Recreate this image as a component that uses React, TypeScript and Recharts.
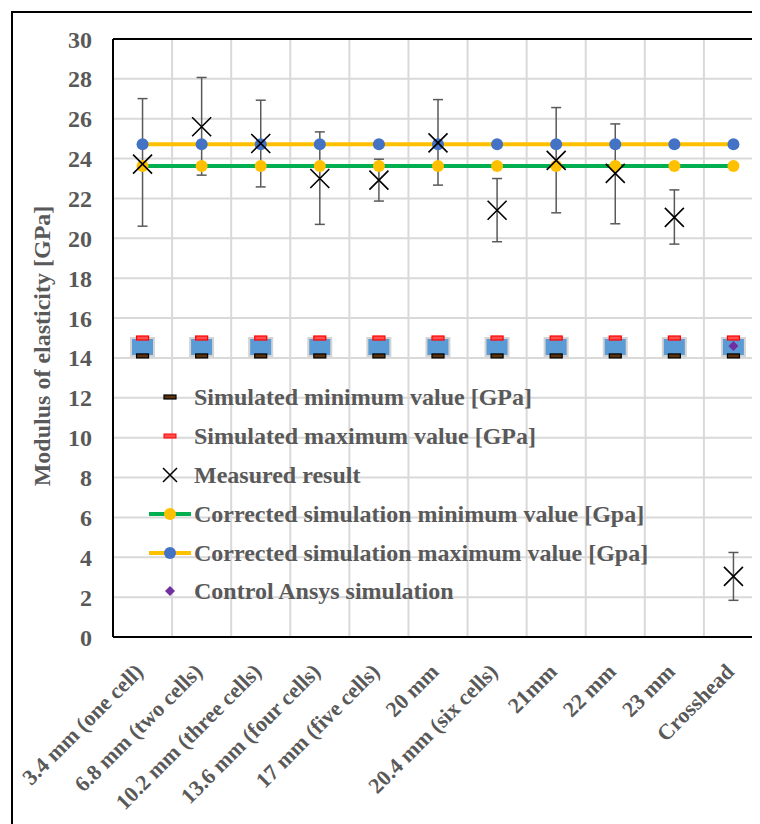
import React from 'react'
import {
  ComposedChart,
  Bar,
  Line,
  XAxis,
  YAxis,
  CartesianGrid,
  ErrorBar,
  ReferenceLine,
  Legend,
  Label,
} from 'recharts'

const categories = [
  '3.4 mm (one cell)',
  '6.8 mm (two cells)',
  '10.2 mm (three cells)',
  '13.6 mm (four cells)',
  '17 mm (five cells)',
  '20 mm',
  '20.4 mm (six cells)',
  '21mm',
  '22 mm',
  '23 mm',
  'Crosshead',
]

const simMin = [14.1, 14.1, 14.1, 14.1, 14.1, 14.1, 14.1, 14.1, 14.1, 14.1, 14.1]
const simMax = [15.0, 15.0, 15.0, 15.0, 15.0, 15.0, 15.0, 15.0, 15.0, 15.0, 15.0]
const measured = [23.72, 25.6, 24.76, 23.0, 22.92, 24.79, 21.41, 23.91, 23.26, 21.05, 3.04]
const measuredLow = [20.61, 23.17, 22.58, 20.7, 21.87, 22.67, 19.83, 21.28, 20.73, 19.71, 1.84]
const measuredHigh = [27.01, 28.07, 26.93, 25.34, 23.97, 26.96, 23.0, 26.56, 25.74, 22.43, 4.24]
const corrMin = [23.63, 23.63, 23.63, 23.63, 23.63, 23.63, 23.63, 23.63, 23.63, 23.63, 23.63]
const corrMax = [24.72, 24.72, 24.72, 24.72, 24.72, 24.72, 24.72, 24.72, 24.72, 24.72, 24.72]
const ansys = [null, null, null, null, null, null, null, null, null, null, 14.6]

const yTicks = [0, 2, 4, 6, 8, 10, 12, 14, 16, 18, 20, 22, 24, 26, 28, 30]
const catTicks = categories.map((_, i) => i + 0.5)
// category boundaries, where the vertical gridlines sit
const gridTicks = [0, 1, 2, 3, 4, 5, 6, 7, 8, 9, 10, 11]

const legendNames = [
  'Simulated minimum value [GPa]',
  'Simulated maximum value [GPa]',
  'Measured result',
  'Corrected simulation minimum value [Gpa]',
  'Corrected simulation maximum value [Gpa]',
  'Control Ansys simulation',
]

const FONT = '"Liberation Serif", "Times New Roman", serif'
const TEXT = '#595959'
const GREEN = '#00B050'
const YELLOW = '#FFC000'
const BLUE = '#4472C4'
const PURPLE = '#7030A0'

const data = categories.map((name, i) => ({
  x: i + 0.5,
  name,
  simRange: [simMin[i], simMax[i]],
  simMin: simMin[i],
  simMax: simMax[i],
  measured: measured[i],
  measuredErr: [measured[i] - measuredLow[i], measuredHigh[i] - measured[i]],
  corrMin: corrMin[i],
  corrMax: corrMax[i],
  ansys: ansys[i],
}))

const dash = (fill: string, stroke: string) => (p: any) => {
  if (p.cx == null || p.cy == null) return <g key={p.index} />
  return (
    <rect key={p.index} x={p.cx - 6} y={p.cy - 2} width={12} height={4} fill={fill} stroke={stroke} strokeWidth={1.2} />
  )
}

const cross = (p: any) => {
  if (p.cx == null || p.cy == null) return <g key={p.index} />
  const r = 9.5
  const { cx, cy } = p
  return (
    <path
      key={p.index}
      d={`M${cx - r},${cy - r}L${cx + r},${cy + r}M${cx - r},${cy + r}L${cx + r},${cy - r}`}
      stroke="#000"
      strokeWidth={1.6}
      fill="none"
    />
  )
}

const diamond = (p: any) => {
  if (p.cx == null || p.cy == null) return <g key={p.index} />
  const { cx, cy } = p
  return <path key={p.index} d={`M${cx},${cy - 5}L${cx + 5},${cy}L${cx},${cy + 5}L${cx - 5},${cy}Z`} fill={PURPLE} />
}

function CategoryTick(props: any) {
  const { x, y, payload } = props
  const label = categories[Math.floor(payload.value)]
  const ax = x - 3
  const ay = y + 29
  return (
    <text
      x={ax}
      y={ay}
      dy="0.32em"
      textAnchor="end"
      transform={`rotate(-45 ${ax} ${ay})`}
      fill={TEXT}
      fontSize={22}
      fontWeight={700}
      fontFamily={FONT}
    >
      {label}
    </text>
  )
}

function LegendMarker({ index }: { index: number }) {
  const c = 21
  const m = 10
  switch (index) {
    case 0:
      return <rect x={c - 6} y={m - 2} width={12} height={4} fill="#5a3210" stroke="#000" strokeWidth={1.2} />
    case 1:
      return <rect x={c - 6} y={m - 2} width={12} height={4} fill="#ff5050" stroke="#ff0000" />
    case 2:
      return <path d={`M${c - 7},${m - 7}L${c + 7},${m + 7}M${c - 7},${m + 7}L${c + 7},${m - 7}`} stroke="#000" strokeWidth={1.5} />
    case 3:
      return (
        <g>
          <line x1={0} y1={m} x2={42} y2={m} stroke={GREEN} strokeWidth={4} />
          <circle cx={c} cy={m} r={6} fill={YELLOW} />
        </g>
      )
    case 4:
      return (
        <g>
          <line x1={0} y1={m} x2={42} y2={m} stroke={YELLOW} strokeWidth={4} />
          <circle cx={c} cy={m} r={6} fill={BLUE} />
        </g>
      )
    default:
      return <path d={`M${c},${m - 5}L${c + 5},${m}L${c},${m + 5}L${c - 5},${m}Z`} fill={PURPLE} />
  }
}

function renderLegend() {
  return (
    <div>
      {legendNames.map((name, i) => (
        <div key={name} style={{ display: 'flex', alignItems: 'center', height: 38.8 }}>
          <svg width={42} height={20} style={{ flex: 'none' }}>
            <LegendMarker index={i} />
          </svg>
          <span
            style={{
              marginLeft: 3,
              fontFamily: FONT,
              fontSize: 24,
              fontWeight: 700,
              color: TEXT,
              whiteSpace: 'nowrap',
              lineHeight: 1,
            }}
          >
            {name}
          </span>
        </div>
      ))}
    </div>
  )
}

export default function App() {
  return (
    <div style={{ position: 'relative', width: 752, height: 816, overflow: 'hidden' }}>
      <ComposedChart width={756} height={816} data={data} margin={{ top: 31, right: 1, bottom: 0, left: 0 }}>
        <XAxis
          xAxisId="grid"
          dataKey="x"
          type="number"
          domain={[0, 11]}
          allowDataOverflow
          ticks={gridTicks}
          interval={0}
          hide
        />
        <CartesianGrid xAxisId="grid" stroke="#d9d9d9" strokeWidth={2} />
        <XAxis
          dataKey="x"
          type="number"
          domain={[0, 11]}
          ticks={catTicks}
          interval={0}
          height={187}
          tickSize={0}
          tickLine={false}
          axisLine={{ stroke: '#000', strokeWidth: 2 }}
          tick={<CategoryTick />}
        />
        <YAxis
          type="number"
          domain={[0, 30]}
          ticks={yTicks}
          interval={0}
          width={105}
          tickSize={0}
          tickMargin={21}
          tickLine={false}
          axisLine={{ stroke: '#000', strokeWidth: 2 }}
          tick={{ fill: TEXT, fontSize: 24, fontWeight: 700, fontFamily: FONT }}
        >
          <Label
            content={(p: any) => {
              const vb = p.viewBox || { x: 0, y: 31, height: 598 }
              const lx = vb.x + 34
              const ly = vb.y + vb.height / 2 + 8
              return (
                <text
                  x={lx}
                  y={ly}
                  transform={`rotate(-90 ${lx} ${ly})`}
                  textAnchor="middle"
                  dominantBaseline="central"
                  fill={TEXT}
                  fontSize={24}
                  fontWeight={700}
                  fontFamily={FONT}
                >
                  Modulus of elasticity [GPa]
                </text>
              )
            }}
          />
        </YAxis>
        <ReferenceLine y={30} stroke="#000" strokeWidth={2} />
        <Bar
          dataKey="simRange"
          barSize={23}
          fill="#5B9BD5"
          stroke="#d4d4d4"
          strokeWidth={2}
          isAnimationActive={false}
        />
        <Line dataKey="simMin" stroke="none" dot={dash('#5a3210', '#000')} activeDot={false} isAnimationActive={false} />
        <Line dataKey="simMax" stroke="none" dot={dash('#ff5050', '#ff0000')} activeDot={false} isAnimationActive={false} />
        <Line dataKey="measured" stroke="none" dot={false} activeDot={false} isAnimationActive={false}>
          <ErrorBar dataKey="measuredErr" width={5} stroke="#595959" strokeWidth={1.5} direction="y" />
        </Line>
        <Line
          dataKey="corrMin"
          stroke={GREEN}
          strokeWidth={4}
          dot={{ r: 6, fill: YELLOW, stroke: 'none', strokeWidth: 0 }}
          activeDot={false}
          isAnimationActive={false}
        />
        <Line
          dataKey="corrMax"
          stroke={YELLOW}
          strokeWidth={4}
          dot={{ r: 6, fill: BLUE, stroke: 'none', strokeWidth: 0 }}
          activeDot={false}
          isAnimationActive={false}
        />
        <Line dataKey="measured" stroke="none" dot={cross} activeDot={false} isAnimationActive={false} />
        <Line dataKey="ansys" stroke="none" dot={diamond} activeDot={false} isAnimationActive={false} />
        <Legend
          layout="vertical"
          align="center"
          verticalAlign="middle"
          wrapperStyle={{ left: 141, top: 370, width: 540, height: 233 }}
          content={renderLegend}
        />
      </ComposedChart>
      <div
        style={{
          position: 'absolute',
          left: 3,
          top: 3,
          width: 800,
          height: 900,
          border: '2px solid #000',
          pointerEvents: 'none',
        }}
      />
    </div>
  )
}
